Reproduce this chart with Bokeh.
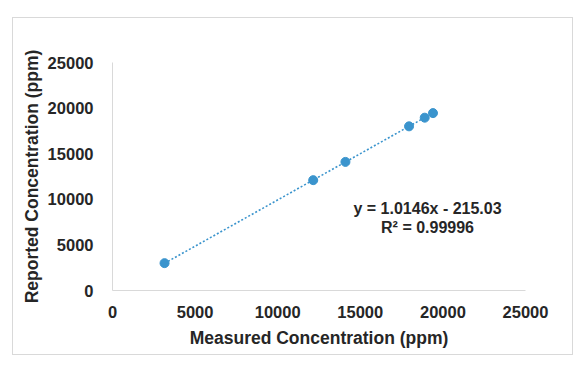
from bokeh.plotting import figure
from bokeh.models import Range1d, SingleIntervalTicker, NumeralTickFormatter, Label, ColumnDataSource
from bokeh.embed import file_html
from bokeh.resources import INLINE

# data
measured = [3150, 12150, 14100, 17950, 18900, 19400]
reported = [3000, 12100, 14100, 18000, 18950, 19450]
slope = 1.0146
intercept = -215.03
eq_lines = ["y = 1.0146x - 215.03", "R² = 0.99996"]
x_title = "Measured Concentration (ppm)"
y_title = "Reported Concentration (ppm)"
axis_max = 25000
tick_step = 5000

FONT = "Liberation Sans"
TXT = "#262626"
BLUE = "#3A94CD"
GRID = "#d9d9d9"

p = figure(width=561, height=338, output_backend="svg", toolbar_location=None,
           x_range=Range1d(0, axis_max), y_range=Range1d(0, axis_max),
           min_border_left=99, min_border_right=49, min_border_top=44, min_border_bottom=66,
           styles={"margin-left": "12px", "margin-top": "17px", "border": "1px solid #d9d9d9"})
p.outline_line_color = None
p.xgrid.visible = False
p.ygrid.visible = False

for ax in (p.xaxis[0], p.yaxis[0]):
    ax.ticker = SingleIntervalTicker(interval=tick_step)
    ax.formatter = NumeralTickFormatter(format="0")
    ax.axis_line_color = GRID
    ax.axis_line_width = 1
    ax.major_tick_line_color = None
    ax.minor_tick_line_color = None
    ax.major_tick_out = 0
    ax.major_tick_in = 0
    ax.major_label_text_font = FONT
    ax.major_label_text_font_style = "bold"
    ax.major_label_text_font_size = "16.5px"
    ax.major_label_text_color = TXT
    ax.axis_label_text_font = FONT
    ax.axis_label_text_font_style = "bold"
    ax.axis_label_text_font_size = "17.5px"
    ax.axis_label_text_color = TXT

p.xaxis.axis_label = x_title
p.yaxis.axis_label = y_title
p.xaxis.major_label_standoff = 11
p.yaxis.major_label_standoff = 15
p.xaxis.axis_label_standoff = 7
p.yaxis.axis_label_standoff = 3

# trendline over data range
x0, x1 = min(measured), max(measured)
src_t = ColumnDataSource(dict(x=[x0, x1], y=[slope * x0 + intercept, slope * x1 + intercept]))
p.line("x", "y", source=src_t, line_color=BLUE, line_width=1.6, line_dash="2 2")

src = ColumnDataSource(dict(x=measured, y=reported))
p.scatter("x", "y", source=src, size=9, fill_color=BLUE, line_color=BLUE)

for i, t in enumerate(eq_lines):
    p.add_layout(Label(x=19070, y=8990 - i * 2080, text=t, text_align="center",
                       text_baseline="middle", text_font=FONT, text_font_style="bold",
                       text_font_size="16px", text_color=TXT))

open("out.html", "w").write(file_html(p, INLINE))
